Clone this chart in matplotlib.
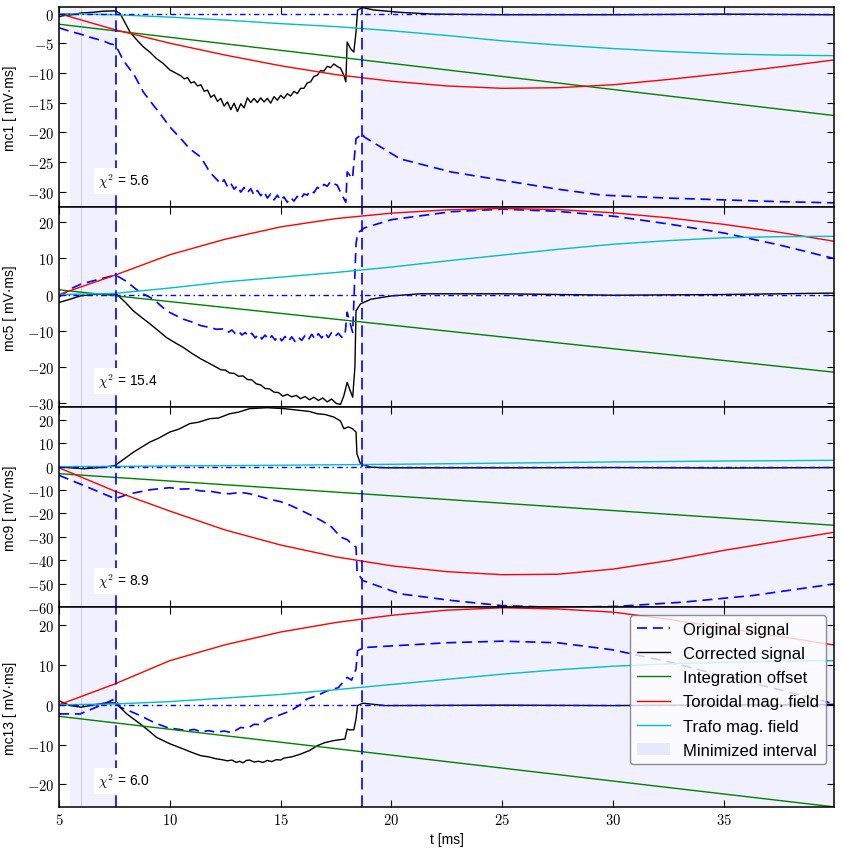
import matplotlib
matplotlib.use("Agg")
import matplotlib.pyplot as plt
from matplotlib.patches import Patch
from matplotlib.ticker import FuncFormatter

plt.rcParams['font.family'] = ['Liberation Sans', 'DejaVu Sans']
plt.rcParams['mathtext.fontset'] = 'cm'

# --- data -------------------------------------------------------------------
T_START = 7.55      # end of first minimised window (dashed line)
T_STOP = 18.65      # start of second minimised window

# smooth model curves sampled every 2.5 ms
t_smooth = [5.0, 7.5, 10.0, 12.5, 15.0, 17.5, 20.0, 22.5, 25.0, 27.5, 30.0, 32.5, 35.0, 37.5, 40.0]
t_lin = [5.0, 40.0]

# mc1
orig1_t = [5.0, 5.5, 6.0, 6.5, 7.0, 7.3, 7.55, 7.9, 8.4, 8.8, 9.27, 9.57, 10.0, 10.5, 10.9, 11.4, 11.8,
           12.3, 12.45, 12.6, 12.75, 12.9, 13.05, 13.2, 13.35, 13.5, 13.65, 13.8, 13.95, 14.1, 14.25,
           14.4, 14.55, 14.7, 14.85, 15.0, 15.15, 15.3, 15.45, 15.6, 15.75, 15.9, 16.05, 16.2, 16.35,
           16.5, 16.65, 16.8, 16.95, 17.1, 17.25, 17.4, 17.55, 17.7, 17.94, 18.0, 18.24, 18.4, 18.7,
           18.77, 20.4, 22.7, 25.0, 27.5, 29.5, 32.5, 35.0, 37.5, 40.0]
orig1 = [-2.4, -3.0, -3.5, -4.1, -4.6, -5.1, -5.3, -7.9, -10.4, -13.2, -15.5, -16.9, -19.1, -21.1, -22.8,
         -24.2, -26.7, -28.7, -28.0, -29.2, -28.6, -29.6, -29.0, -30.1, -29.3, -30.2, -29.5, -30.6,
         -29.8, -30.7, -30.0, -31.1, -30.4, -31.4, -30.6, -31.5, -30.9, -31.8, -31.0, -31.6, -30.8,
         -31.3, -30.4, -30.6, -29.8, -30.2, -29.3, -29.6, -28.8, -29.1, -28.3, -28.7, -28.9, -30.1,
         -31.8, -26.7, -27.8, -21.1, -20.2, -20.8, -24.5, -26.7, -28.1, -29.6, -30.6, -31.1, -31.4,
         -31.7, -31.9]
corr1_t = [5.0, 5.3, 5.6, 6.0, 6.5, 7.0, 7.55, 7.76, 8.2, 8.5, 8.8, 9.1, 9.4, 9.7, 10.0, 10.3, 10.5,
           10.65, 10.8, 10.95, 11.1, 11.25, 11.4, 11.55, 11.7, 11.85, 12.0, 12.15, 12.3, 12.45, 12.6,
           12.75, 12.9, 13.05, 13.2, 13.35, 13.5, 13.65, 13.8, 13.95, 14.1, 14.25, 14.4, 14.55, 14.7,
           14.85, 15.0, 15.15, 15.3, 15.45, 15.6, 15.75, 15.9, 16.05, 16.2, 16.35, 16.5, 16.65, 16.8,
           16.95, 17.1, 17.25, 17.4, 17.55, 17.7, 17.85, 17.94, 18.0, 18.15, 18.3, 18.4, 18.47, 18.7,
           19.2, 20.4, 21.9, 25.0, 30.0, 35.0, 40.0]
corr1 = [-0.5, -0.3, -0.2, 0.1, 0.2, 0.4, 0.45, 0.0, -3.1, -4.4, -5.6, -6.5, -7.6, -8.4, -9.5, -10.1,
         -10.5, -11.0, -10.8, -11.7, -11.5, -12.2, -12.0, -13.1, -12.9, -14.1, -13.7, -14.8, -14.3,
         -15.6, -14.9, -16.2, -15.1, -16.5, -15.2, -15.9, -14.2, -15.0, -14.3, -15.0, -14.2, -14.9,
         -14.3, -15.1, -14.0, -14.6, -13.8, -14.3, -13.5, -13.9, -13.1, -13.5, -12.6, -12.6, -11.7,
         -11.5, -10.6, -10.4, -9.6, -9.7, -8.9, -9.1, -8.5, -8.9, -9.2, -10.4, -11.5, -4.8, -5.9, -6.5,
         -3.1, 0.6, 1.0, 0.6, 0.2, -0.1, -0.2, -0.2, -0.1, -0.2]
red1 = [0.0, -2.7, -5.0, -7.0, -8.8, -10.3, -11.4, -12.2, -12.6, -12.5, -12.0, -11.1, -10.1, -9.0, -7.8]
cyan1 = [0.0, -0.2, -0.6, -1.1, -1.7, -2.2, -2.9, -3.7, -4.6, -5.3, -5.9, -6.4, -6.8, -7.0, -7.1]
green1 = [-1.8, -17.2]

# mc5
orig2_t = [5.0, 5.5, 6.0, 6.86, 7.55, 8.0, 8.66, 9.27, 9.85, 10.3, 10.6, 11.0, 11.4, 11.8, 12.1,
           12.5, 12.65, 12.8, 12.95, 13.1, 13.25, 13.4, 13.55, 13.7, 13.85, 14.0, 14.15, 14.3, 14.45,
           14.6, 14.75, 14.9, 15.05, 15.2, 15.35, 15.5, 15.65, 15.8, 15.95, 16.1, 16.25, 16.4, 16.55,
           16.7, 16.85, 17.0, 17.15, 17.3, 17.45, 17.6, 17.75, 17.9, 18.0, 18.25, 18.4, 18.47, 18.6,
           18.77, 20.0, 22.7, 25.0, 27.5, 30.1, 32.5, 35.0, 37.5, 40.0]
orig2 = [-0.7, 1.5, 2.9, 4.3, 5.4, 3.8, 0.6, -1.3, -4.5, -5.9, -6.8, -7.6, -8.6, -9.1, -9.6,
         -9.5, -10.4, -9.8, -10.8, -10.1, -11.2, -10.5, -11.6, -10.7, -12.0, -11.0, -12.3, -11.2,
         -12.5, -11.4, -12.6, -11.5, -12.8, -11.6, -12.9, -11.7, -13.0, -11.8, -12.7, -11.3, -12.5,
         -11.0, -12.3, -10.8, -12.0, -10.6, -11.9, -10.5, -11.6, -10.7, -11.8, -11.4, -4.9, -10.5,
         13.9, 17.0, 17.6, 18.4, 20.7, 22.9, 23.6, 23.0, 21.6, 19.5, 17.0, 13.7, 9.9]
corr2_t = [5.0, 5.5, 5.95, 6.5, 7.0, 7.6, 8.0, 8.35, 8.7, 9.1, 9.5, 9.85, 10.2, 10.6, 11.0, 11.4,
           11.8, 12.1, 12.3, 12.5, 12.7, 12.9, 13.1, 13.3, 13.5, 13.7, 13.9, 14.1, 14.3, 14.5, 14.7,
           14.9, 15.1, 15.3, 15.5, 15.7, 15.9, 16.1, 16.3, 16.5, 16.7, 16.9, 17.1, 17.3, 17.5, 17.7,
           17.85, 18.0, 18.1, 18.25, 18.35, 18.4, 18.6, 19.07, 19.98, 21.3, 25.0, 30.1, 35.0, 40.0]
corr2 = [-2.2, -1.3, -0.4, 0.0, 0.1, 0.1, -2.2, -4.5, -6.2, -8.1, -10.1, -11.9, -13.2, -14.6, -16.3,
         -17.8, -19.1, -20.1, -20.8, -20.9, -21.7, -21.8, -22.6, -22.5, -23.5, -23.6, -24.7, -25.0,
         -26.0, -26.1, -27.0, -27.1, -28.1, -27.6, -28.3, -27.9, -28.8, -28.2, -29.1, -28.4, -29.3,
         -28.6, -29.7, -28.9, -30.1, -30.4, -28.0, -24.3, -26.0, -28.4, -20.0, -4.5, -2.6, -1.3,
         -0.4, 0.2, 0.2, -0.2, 0.0, 0.4]
red2 = [0.0, 5.3, 11.0, 15.3, 18.7, 21.0, 22.5, 23.4, 23.8, 23.5, 22.6, 21.2, 19.4, 17.2, 14.7]
cyan2 = [0.0, 0.3, 1.8, 3.5, 4.8, 6.1, 7.6, 9.3, 10.9, 12.5, 13.9, 14.9, 15.7, 16.0, 16.1]
green2 = [1.3, -21.5]

# mc9
orig3_t = [5.0, 6.1, 7.53, 8.2, 9.1, 10.0, 10.5, 10.9, 11.4, 11.8, 12.3, 12.7, 13.2, 13.6, 14.0,
           14.4, 15.0, 15.45, 15.9, 16.4, 16.9, 17.3, 17.7, 18.0, 18.2, 18.4, 18.45, 18.7, 20.4,
           22.7, 24.95, 27.2, 30.1, 33.2, 36.3, 40.0]
orig3 = [-3.7, -8.0, -13.7, -11.6, -9.9, -9.0, -9.6, -9.5, -10.4, -10.5, -11.3, -11.6, -11.0, -11.6,
         -12.6, -13.7, -15.0, -16.6, -18.6, -20.9, -23.4, -25.8, -30.1, -31.2, -33.0, -34.4, -45.1,
         -48.7, -54.4, -57.2, -59.4, -60.1, -59.8, -57.9, -55.1, -50.1]
corr3_t = [5.05, 6.1, 7.0, 7.53, 8.36, 9.1, 9.5, 10.0, 10.4, 10.9, 11.3, 11.8, 12.2, 12.7, 13.1,
           13.6, 14.4, 15.15, 15.9, 16.3, 16.65, 17.0, 17.4, 17.7, 17.85, 18.05, 18.24, 18.4, 18.44,
           18.6, 19.07, 19.7, 25.0, 30.0, 35.0, 40.0]
corr3 = [-0.2, -0.9, -0.3, 0.5, 6.2, 10.5, 12.2, 14.8, 16.0, 18.4, 19.0, 20.5, 20.8, 22.6, 23.3,
         24.8, 25.2, 24.8, 24.0, 23.6, 22.6, 22.3, 21.2, 19.5, 16.2, 17.0, 16.2, 14.8, 5.5, 1.2, -0.2,
         -0.5, -0.5, -0.4, -0.6, -0.4]
red3 = [-0.5, -10.4, -19.0, -27.1, -33.5, -38.6, -42.4, -44.9, -46.2, -46.0, -43.8, -40.2, -35.8, -31.9, -28.0]
cyan3 = [0.0, 0.1, 0.3, 0.45, 0.6, 0.8, 1.0, 1.25, 1.5, 1.75, 2.0, 2.2, 2.4, 2.55, 2.7]
green3 = [-3.0, -25.1]

# mc13
orig4_t = [5.0, 5.95, 6.86, 7.53, 7.76, 8.2, 8.66, 9.3, 9.87, 10.3, 10.77, 11.1, 11.4, 11.75, 12.1,
           12.45, 12.8, 13.2, 13.5, 13.8, 14.1, 14.4, 14.9, 15.45, 15.8, 16.2, 16.6, 17.1, 17.6,
           18.0, 18.2, 18.4, 18.47, 18.77, 20.0, 22.5, 25.0, 27.5, 30.0, 32.5, 35.0, 37.5, 40.0]
orig4 = [-2.3, -2.3, -0.2, 1.5, -0.6, -1.6, -2.7, -4.5, -5.7, -6.1, -6.5, -6.2, -6.8, -6.5, -6.9,
         -6.6, -7.0, -5.7, -5.9, -4.9, -5.0, -3.6, -2.7, -1.5, -0.3, 1.5, 2.2, 3.5, 4.3, 6.9, 6.2,
         9.0, 13.6, 14.4, 14.8, 15.6, 16.0, 15.6, 13.8, 10.8, 7.2, 3.8, 0.2]
corr4_t = [5.0, 5.5, 6.0, 6.5, 7.0, 7.53, 7.6, 8.06, 8.66, 9.0, 9.4, 10.0, 10.6, 11.0, 11.4, 11.75,
           12.1, 12.35, 12.6, 12.8, 13.0, 13.15, 13.3, 13.45, 13.6, 13.8, 14.0, 14.2, 14.4, 14.6, 14.8,
           15.0, 15.15, 15.5, 15.9, 16.3, 16.65, 17.0, 17.4, 17.9, 18.0, 18.1, 18.3, 18.4, 18.47, 18.7,
           19.7, 25.0, 30.0, 35.0, 40.0]
corr4 = [1.0, -0.2, -0.6, -0.1, 0.4, 0.5, 0.2, -2.3, -4.8, -6.3, -8.2, -9.8, -11.1, -12.0, -12.8,
         -13.1, -13.6, -13.8, -14.1, -13.9, -14.5, -14.2, -14.6, -14.0, -13.9, -14.4, -14.2, -14.5,
         -14.0, -14.3, -13.8, -13.9, -13.4, -13.1, -12.4, -11.5, -10.3, -9.5, -9.0, -8.6, -6.1, -6.3,
         -6.3, -3.5, -0.2, 0.4, -0.2, -0.1, -0.2, 0.0, 0.1]
red4 = [0.0, 5.2, 11.1, 15.1, 18.3, 20.7, 22.5, 23.8, 24.4, 24.1, 23.3, 21.5, 19.3, 17.2, 15.0]
cyan4 = [0.0, 0.2, 0.8, 1.7, 2.6, 3.8, 5.1, 6.4, 7.7, 8.8, 9.7, 10.3, 10.7, 11.0, 11.1]
green4 = [-2.9, -25.7]

names = ['mc1', 'mc5', 'mc9', 'mc13']
chi2 = [5.6, 15.4, 8.9, 6.0]
ylims = [(-32.6, 1.1), (-31.1, 24.2), (-60, 25.5), (-25.7, 24.6)]
yticks = [list(range(-30, 1, 5)), list(range(-30, 21, 10)), list(range(-60, 21, 10)), list(range(-20, 21, 10))]
xticks = [5, 10, 15, 20, 25, 30, 35]

panels = [
    (orig1_t, orig1, corr1_t, corr1, red1, cyan1, green1),
    (orig2_t, orig2, corr2_t, corr2, red2, cyan2, green2),
    (orig3_t, orig3, corr3_t, corr3, red3, cyan3, green3),
    (orig4_t, orig4, corr4_t, corr4, red4, cyan4, green4),
]

cm_fmt = FuncFormatter(lambda v, pos: r'$%d$' % v)

fig, axes = plt.subplots(4, 1, sharex=True, figsize=(8.44, 8.53), dpi=100)
fig.subplots_adjust(left=0.0699, right=0.9886, top=0.9906, bottom=0.0528, hspace=0)

for i, ax in enumerate(axes):
    ot, o, ct, c, r, cy, g = panels[i]
    ax.axvspan(5.5, T_START, color='b', alpha=0.06, lw=0, zorder=0)
    ax.axvspan(T_STOP, 40.0, color='b', alpha=0.06, lw=0, zorder=0)
    ax.axvline(6.0, color='0.5', lw=0.6, alpha=0.35, zorder=0)

    l_orig, = ax.plot(ot, o, color='b', lw=1.2, dashes=(6, 3.5), label='Original signal')
    l_corr, = ax.plot(ct, c, color='k', lw=1.0, label='Corrected signal')
    l_off, = ax.plot(t_lin, g, color='g', lw=1.0, label='Integration offset')
    l_tor, = ax.plot(t_smooth, r, color='r', lw=1.0, label='Toroidal mag. field')
    l_tra, = ax.plot(t_smooth, cy, color='c', lw=1.0, label='Trafo mag. field')
    ax.plot(t_lin, [0, 0], color='b', lw=1.0, dashes=(4, 2.5, 1, 2.5))

    ax.axvline(T_START, color='b', lw=1.2, dashes=(7, 3.5))
    ax.axvline(T_STOP, color='b', lw=1.2, dashes=(7, 3.5))

    ax.set_xlim(5, 39.98)
    ax.set_ylim(*ylims[i])
    ax.set_yticks(yticks[i])
    ax.set_xticks(xticks)
    ax.yaxis.set_major_formatter(cm_fmt)
    ax.xaxis.set_major_formatter(cm_fmt)
    ax.tick_params(direction='in', top=True, right=True, length=5, width=0.8, labelsize=10.5)
    for s in ax.spines.values():
        s.set_linewidth(1.1)
    ax.set_ylabel(names[i] + ' [ mV·ms]', fontsize=10)
    ax.yaxis.set_label_coords(-0.054, 0.5)

    ax.text(0.05, 0.13, r'$\chi^2$ = %.1f' % chi2[i], transform=ax.transAxes, fontsize=10,
            ha='left', va='center', bbox=dict(facecolor='white', edgecolor='none', pad=2.5))

axes[-1].set_xlabel('t [ms]', fontsize=10)
axes[-1].legend(handles=[l_orig, l_corr, l_off, l_tor, l_tra,
                         Patch(facecolor='b', alpha=0.08, label='Minimized interval')],
                loc='upper right', fontsize=12, fancybox=True, framealpha=0.8,
                edgecolor='0.45', labelspacing=0.55)

fig.savefig('out.png', dpi=100)
